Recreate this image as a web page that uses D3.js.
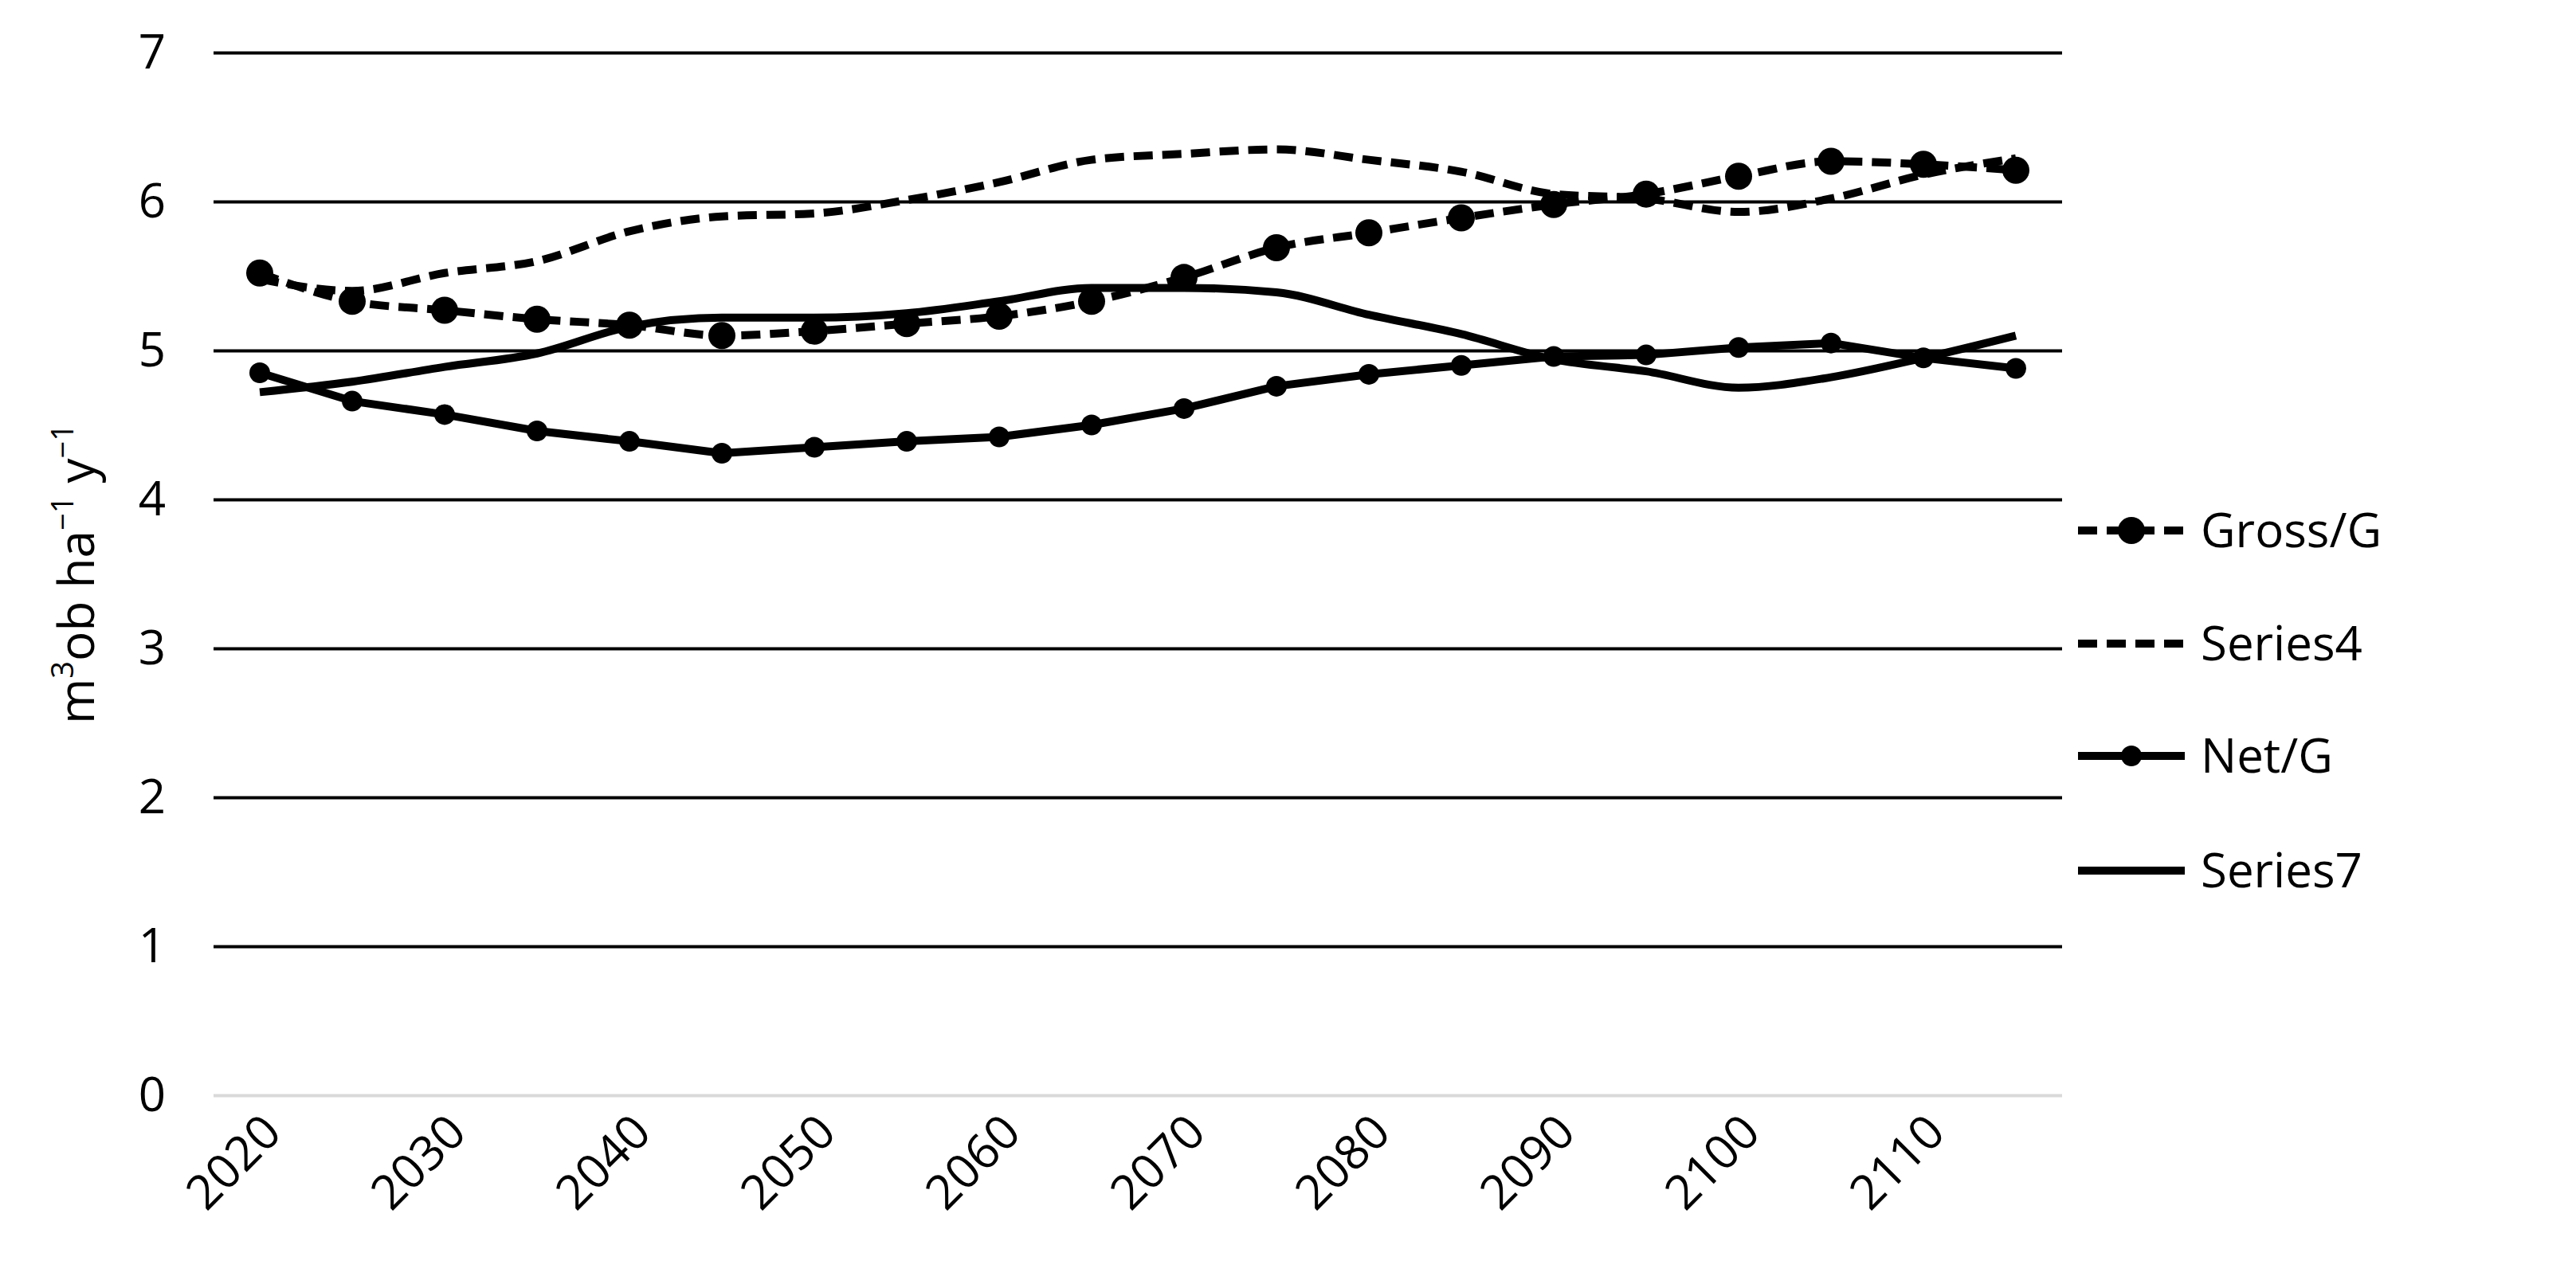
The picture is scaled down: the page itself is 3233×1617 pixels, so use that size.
<!DOCTYPE html>
<html><head><meta charset="utf-8">
<script src="https://cdn.jsdelivr.net/npm/d3@7"></script>
<style>body{margin:0;background:#fff}svg{display:block}text{font-family:"Open Sans",sans-serif;fill:#000}</style>
</head><body><svg id="c" width="3233" height="1617"></svg>
<script>
const years = d3.range(2020, 2120, 5);
const xTickLabels = [2020,2030,2040,2050,2060,2070,2080,2090,2100,2110];
const yTicks = [0,1,2,3,4,5,6,7];
const grossG = [5.52,5.33,5.27,5.21,5.17,5.10,5.13,5.18,5.23,5.33,5.49,5.69,5.79,5.89,5.98,6.05,6.17,6.27,6.25,6.21];
const series4 = [5.48,5.40,5.52,5.60,5.80,5.90,5.92,6.01,6.13,6.28,6.32,6.35,6.28,6.20,6.05,6.02,5.93,6.02,6.18,6.29];
const netG = [4.85,4.66,4.57,4.46,4.39,4.31,4.35,4.39,4.42,4.50,4.61,4.76,4.84,4.90,4.96,4.97,5.02,5.05,4.95,4.88];
const series7 = [4.72,4.79,4.89,4.98,5.16,5.22,5.22,5.25,5.33,5.42,5.42,5.39,5.24,5.11,4.94,4.86,4.75,4.82,4.95,5.10];

const svg = d3.select("#c");
const L=268,R=2588,T=66,B=1375;
const x = d3.scaleBand().domain(years).range([L,R]);
const y = d3.scaleLinear().domain([0,7]).range([B,T]);
const cx = d => x(d)+x.bandwidth()/2;
const FS=60;

const gy = svg.append("g").attr("transform",`translate(${L},0)`)
 .call(d3.axisLeft(y).tickValues(yTicks).tickFormat(d3.format("d")).tickSize(-(R-L)).tickPadding(60));
gy.select(".domain").remove();
gy.selectAll(".tick line").attr("stroke",d=>d===0?"#d9d9d9":"#000").attr("stroke-width",4);
gy.selectAll(".tick text").attr("font-size",FS).attr("font-family","Open Sans,sans-serif");

const gx = svg.append("g").attr("transform",`translate(0,${B})`)
 .call(d3.axisBottom(x).tickValues(xTickLabels).tickSize(0).tickPadding(0));
gx.select(".domain").remove();
gx.selectAll(".tick text").attr("font-size",FS).attr("font-family","Open Sans,sans-serif")
 .attr("text-anchor","end").attr("dy",0).attr("transform","translate(30,50) rotate(-45)");

svg.append("text").attr("transform",`translate(118,${(T+B)/2}) rotate(-90)`)
 .attr("text-anchor","middle").attr("font-size",62)
 .html('m<tspan baseline-shift="super" font-size="38">3</tspan>ob ha<tspan baseline-shift="super" font-size="38">−1</tspan> y<tspan baseline-shift="super" font-size="38">−1</tspan>');

const series = [
 {name:"Gross/G", vals:grossG, dash:"24,12", r:17, curve:d3.curveMonotoneX},
 {name:"Series4", vals:series4, dash:"24,12", r:0, curve:d3.curveMonotoneX},
 {name:"Net/G", vals:netG, dash:null, r:13, curve:d3.curveLinear},
 {name:"Series7", vals:series7, dash:null, r:0, curve:d3.curveMonotoneX}
];
series.forEach(s=>{
 const line = d3.line().x((d,i)=>cx(years[i])).y(d=>y(d)).curve(s.curve);
 svg.append("path").attr("d",line(s.vals)).attr("fill","none").attr("stroke","#000")
  .attr("stroke-width",10).attr("stroke-dasharray",s.dash).attr("stroke-linejoin","round");
 if(s.r) svg.append("g").selectAll("circle").data(s.vals).join("circle")
  .attr("cx",(d,i)=>cx(years[i])).attr("cy",d=>y(d)).attr("r",s.r).attr("fill","#000");
});

const legY=[666,808,949,1093];
series.forEach((s,i)=>{
 const g=svg.append("g").attr("transform",`translate(0,${legY[i]})`);
 g.append("line").attr("x1",2608).attr("x2",2742).attr("stroke","#000").attr("stroke-width",10)
  .attr("stroke-dasharray",s.dash?"24,12":null);
 if(s.r) g.append("circle").attr("cx",2675).attr("r",s.r).attr("fill","#000");
 g.append("text").attr("x",2762).attr("dy","0.35em").attr("font-size",FS).text(s.name);
});
</script></body></html>
